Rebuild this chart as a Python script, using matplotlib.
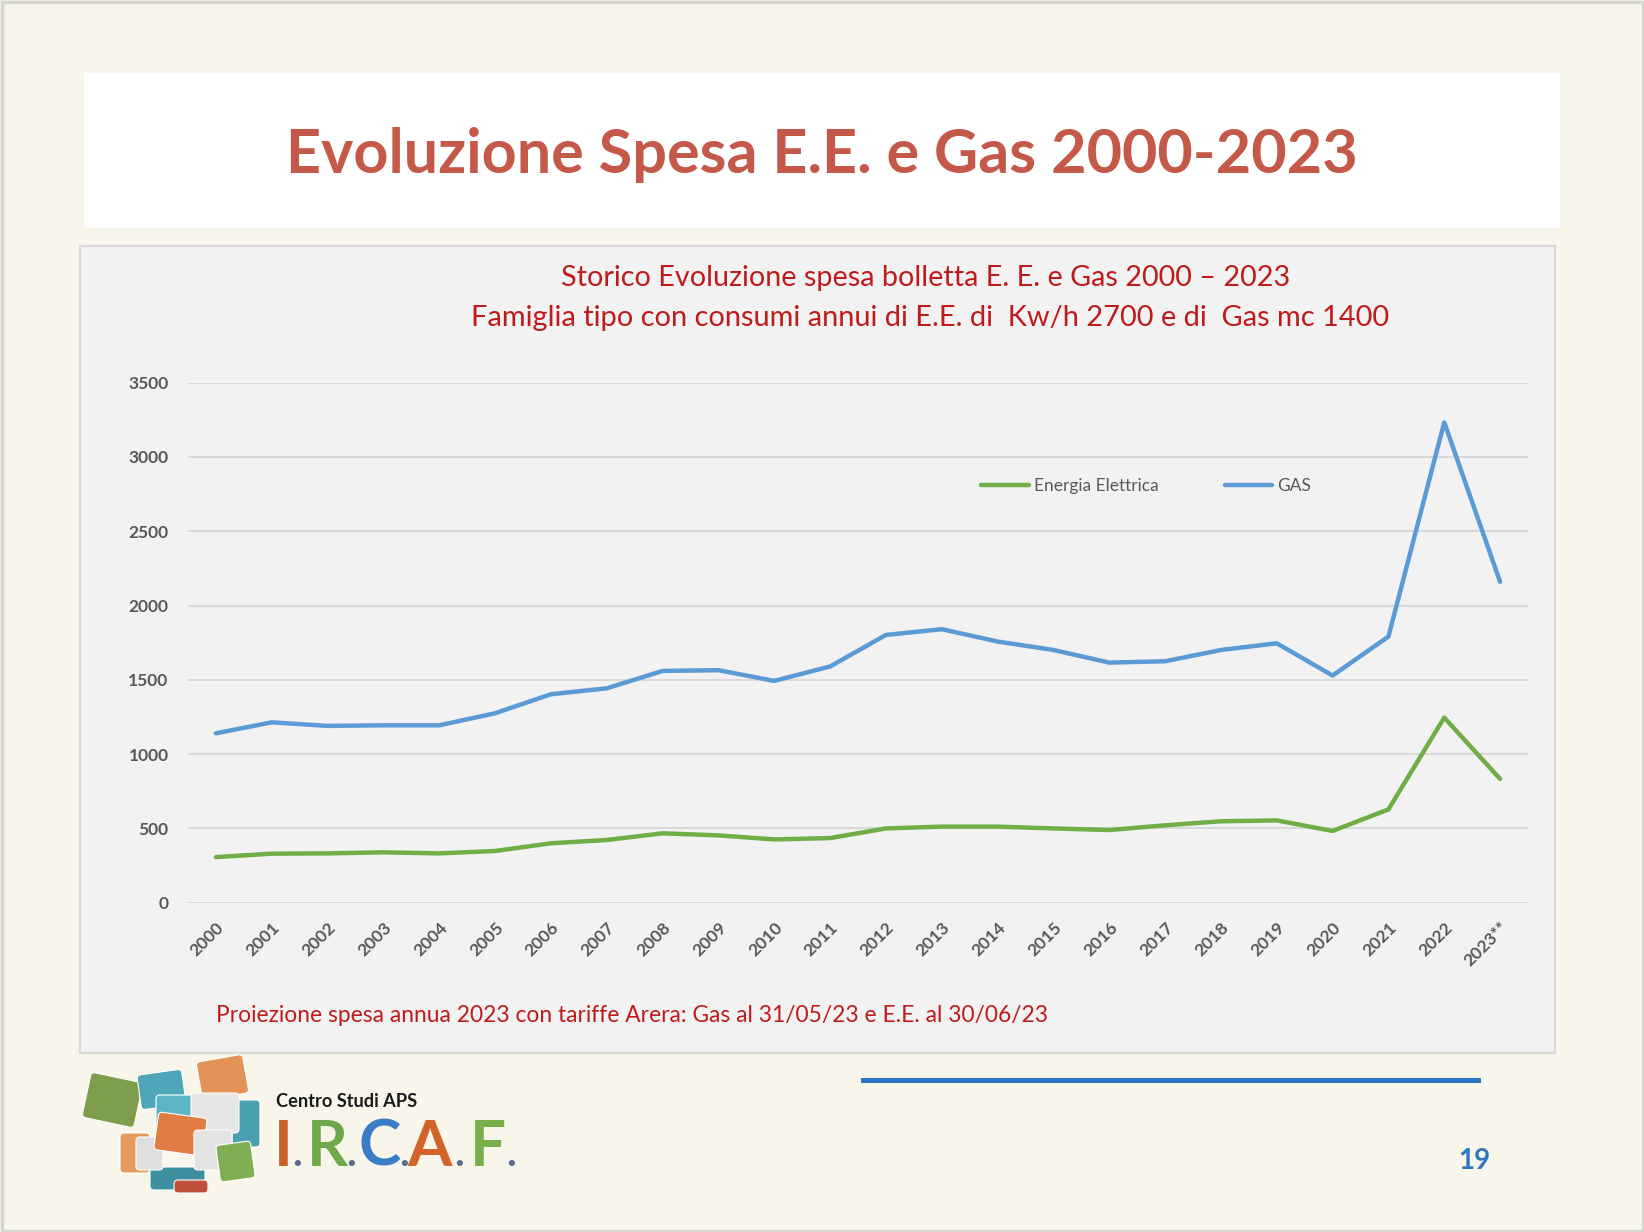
import matplotlib
matplotlib.use("Agg")
import matplotlib.pyplot as plt
from matplotlib.patches import Rectangle, FancyBboxPatch
import numpy as np

# ---------------- data ----------------
years = ["2000", "2001", "2002", "2003", "2004", "2005", "2006", "2007", "2008",
         "2009", "2010", "2011", "2012", "2013", "2014", "2015", "2016", "2017",
         "2018", "2019", "2020", "2021", "2022", "2023**"]
energia = [307, 330, 332, 339, 332, 348, 400, 422, 467, 453, 426, 435, 500, 512,
           512, 500, 489, 521, 548, 554, 483, 628, 1246, 833]
gas = [1140, 1214, 1190, 1194, 1194, 1275, 1403, 1443, 1560, 1565, 1493, 1590,
       1802, 1841, 1758, 1701, 1616, 1625, 1701, 1746, 1529, 1791, 3233, 2160]
y_ticks = [0, 500, 1000, 1500, 2000, 2500, 3000, 3500]
series_names = ["Energia Elettrica", "GAS"]

title = "Evoluzione Spesa E.E. e Gas 2000-2023"
sub1 = "Storico Evoluzione spesa bolletta E. E. e Gas 2000 \u2013 2023"
sub2 = "Famiglia tipo con consumi annui di E.E. di  Kw/h 2700 e di  Gas mc 1400"
note = "Proiezione spesa annua 2023 con tariffe Arera: Gas al 31/05/23 e E.E. al 30/06/23"

plt.rcParams['font.family'] = ['Lato', 'DejaVu Sans']

W, H = 1644, 1232
fig = plt.figure(figsize=(W / 100, H / 100), dpi=100)
fig.patch.set_facecolor('#F8F6EA')

# background / decoration layer in pixel coordinates
bg = fig.add_axes([0, 0, 1, 1], zorder=0)
bg.set_xlim(0, W)
bg.set_ylim(H, 0)
bg.axis('off')
bg.add_patch(Rectangle((1.5, 1.5), W - 3, H - 3, fill=False, ec='#D6D6D0', lw=2.5))
bg.add_patch(Rectangle((84, 73), 1560 - 84, 228 - 73, fc='white', ec='none'))
bg.add_patch(Rectangle((80, 246), 1555 - 80, 1053 - 246, fc='#F2F2F2', ec='#D9D9D9', lw=1.6))
bg.add_patch(Rectangle((861, 1078), 1481 - 861, 5, fc='#2E74C0', ec='none'))

renderer = fig.canvas.get_renderer()


def fit(t, target_w):
    bb = t.get_window_extent(renderer)
    t.set_fontsize(t.get_fontsize() * target_w / bb.width)


t = bg.text(822, 173, title, ha='center', va='baseline', fontsize=42,
            fontweight='bold', color='#C4594A')
fit(t, 1074)
t = bg.text(926, 286, sub1, ha='center', va='baseline', fontsize=20, color='#BF1B1B')
fit(t, 729)
t = bg.text(930, 326, sub2, ha='center', va='baseline', fontsize=20, color='#BF1B1B')
fit(t, 921)
t = bg.text(216, 1022.5, note, ha='left', va='baseline', fontsize=17, color='#BF1B1B')
fit(t, 830)

# page number
bg.text(1474, 1169, "19", ha='center', va='baseline', fontsize=20,
        fontweight='bold', color='#2E74C0')

# ---- logo (approximation) ----
cubes = [
    (86, 1077, 53, 46, '#7E9E4E', -12),
    (232, 1100, 28, 47, '#4AA0B0', 0),
    (139, 1072, 45, 35, '#4EA6B8', 8),
    (199, 1058, 47, 39, '#E39358', 10),
    (156, 1095, 38, 32, '#5BB5C5', 0),
    (191, 1093, 48, 40, '#E6E6E6', 0),
    (150, 1167, 55, 23, '#3E8FA0', 0),
    (174, 1180, 34, 13, '#C0503A', 0),
    (120, 1133, 30, 40, '#E59A60', 0),
    (136, 1137, 27, 33, '#DEDEDE', 0),
    (156, 1115, 49, 38, '#E07D45', -8),
    (194, 1130, 38, 40, '#E3E3E3', 0),
    (218, 1143, 35, 37, '#7FAF52', 8),
]
import matplotlib.transforms as mtrans
for (x0, y0, w, h, c, ang) in cubes:
    p = FancyBboxPatch((x0, y0), w, h, boxstyle="round,pad=0,rounding_size=4",
                       fc=c, ec='white', lw=0.8)
    cx, cy = x0 + w / 2, y0 + h / 2
    p.set_transform(mtrans.Affine2D().rotate_deg_around(cx, cy, -ang) + bg.transData)
    bg.add_patch(p)

t = bg.text(276, 1107, "Centro Studi APS", ha='left', va='baseline', fontsize=12,
            fontweight='bold', color='#1A1A1A')
fit(t, 141)
letters = [("I", 283.5, '#C8602C'), ("R", 327, '#6FA84A'), ("C", 380, '#3A7DC6'),
           ("A", 430, '#D2642A'), ("F", 488, '#78AE4C')]
for ch, cx, col in letters:
    bg.text(cx, 1166, ch, ha='center', va='baseline', fontsize=46,
            fontweight='bold', color=col)
for dx in [297.6, 351, 404, 459.5, 511]:
    bg.text(dx, 1166, ".", ha='center', va='baseline', fontsize=30,
            fontweight='bold', color='#5C6B8C')

# ---------------- chart ----------------
ax = fig.add_axes([188 / W, 1 - 902.7 / H, 1340 / W, 520 / H], zorder=2)
ax.set_facecolor('none')
x = np.arange(len(years))
ax.plot(x, energia, color='#70AD47', lw=3.2, label=series_names[0],
        solid_joinstyle='round', solid_capstyle='round')
ax.plot(x, gas, color='#5B9BD5', lw=3.2, label=series_names[1],
        solid_joinstyle='round', solid_capstyle='round')
ax.set_xlim(-0.5, len(years) - 0.5)
ax.set_ylim(0, 3500)
ax.set_yticks(y_ticks)
ax.set_yticklabels([str(v) for v in y_ticks], fontsize=12.5, fontweight='bold',
                   color='#595959')
ax.set_xticks(x)
ax.set_xticklabels(years, rotation=45, ha='right', va='top', rotation_mode='anchor',
                   fontsize=12.5, fontweight='bold', color='#595959')
ax.tick_params(axis='y', length=0, pad=14)
ax.tick_params(axis='x', length=0, pad=12)
ax.grid(axis='y', color='#D9D9D9', lw=1.4)
ax.set_axisbelow(True)
for s in ax.spines.values():
    s.set_visible(False)

leg = ax.legend(loc='center', bbox_to_anchor=(0.715, 0.801), ncol=2, frameon=False,
                fontsize=12.5, handlelength=2.75, handletextpad=0.3,
                columnspacing=3.8)
for txt in leg.get_texts():
    txt.set_color('#595959')

fig.savefig("out.png", dpi=100, facecolor=fig.get_facecolor())
